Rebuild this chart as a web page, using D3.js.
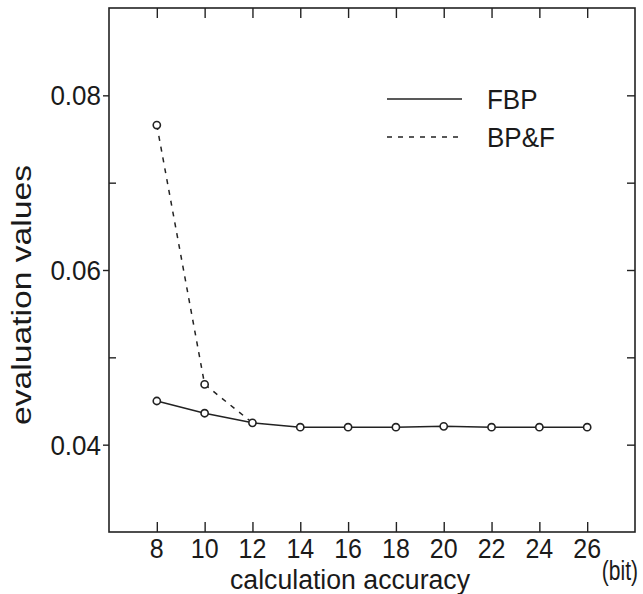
<!DOCTYPE html>
<html>
<head>
<meta charset="utf-8">
<script src="https://cdn.jsdelivr.net/npm/d3@7"></script>
<style>
  body { margin: 0; background: #fff; }
  text { font-family: "Liberation Sans", Arial, sans-serif; fill: #1a1a1a; }
</style>
</head>
<body>
<svg></svg>
<script>
var bits = [8, 10, 12, 14, 16, 18, 20, 22, 24, 26];
var fbp = [0.0450, 0.0436, 0.0425, 0.0420, 0.0420, 0.0420, 0.0421, 0.0420, 0.0420, 0.0420];
var bpf = [0.0766, 0.0469, 0.0425, 0.0420, 0.0420, 0.0420, 0.0421, 0.0420, 0.0420, 0.0420];
var yMajor = [0.04, 0.06, 0.08];
var yMinor = [0.05, 0.07];
var seriesNames = ["FBP", "BP&F"];

var width = 643;
var height = 594;
var svg = d3.select("svg")
            .attr("width", width)
            .attr("height", height);

var plotLeft = 109, plotRight = 635, plotTop = 8, plotBottom = 532;

var xScale = d3.scaleLinear()
               .domain([6, 28])
               .range([plotLeft, plotRight]);

var yScale = d3.scaleLinear()
               .domain([0.03, 0.09])
               .range([plotBottom, plotTop]);

// text in the scan looks a bit stretched vertically
function tall(sel, x, y, rot, sy) {
  sel.attr("transform", "translate(" + x + "," + y + ")" + (rot ? " rotate(" + rot + ")" : "") + " scale(1," + (sy || 1.08) + ")");
}

// frame
svg.append("rect")
   .attr("x", plotLeft).attr("y", plotTop)
   .attr("width", plotRight - plotLeft).attr("height", plotBottom - plotTop)
   .attr("fill", "none").attr("stroke", "#222").attr("stroke-width", 1.6);

// x ticks, bottom and top, inward
var xb = d3.axisBottom(xScale).tickValues(bits).tickSize(-10).tickFormat("");
svg.append("g").attr("transform", "translate(0," + plotBottom + ")").call(xb);
var xt = d3.axisTop(xScale).tickValues(bits).tickSize(-10).tickFormat("");
svg.append("g").attr("transform", "translate(0," + plotTop + ")").call(xt);

// y ticks
var yl = d3.axisLeft(yScale).tickValues(yMajor).tickSize(6).tickFormat("");
svg.append("g").attr("transform", "translate(" + plotLeft + ",0)").call(yl);
var ylm = d3.axisLeft(yScale).tickValues(yMinor).tickSize(-7).tickFormat("");
svg.append("g").attr("transform", "translate(" + plotLeft + ",0)").call(ylm);
var yr = d3.axisRight(yScale).tickValues(yMajor.concat(yMinor)).tickSize(-8).tickFormat("");
svg.append("g").attr("transform", "translate(" + plotRight + ",0)").call(yr);

svg.selectAll(".domain").remove();
svg.selectAll(".tick line").attr("stroke", "#222").attr("stroke-width", 1.4);

// tick labels
svg.selectAll(".xlab")
   .data(bits)
   .enter()
   .append("text")
   .attr("text-anchor", "middle")
   .style("font-size", "25px")
   .text(function(d) { return d; })
   .each(function(d) { tall(d3.select(this), xScale(d), 558); });

svg.selectAll(".ylab")
   .data(yMajor)
   .enter()
   .append("text")
   .attr("text-anchor", "end")
   .attr("dy", "0.36em")
   .style("font-size", "26px")
   .text(function(d) { return d.toFixed(2); })
   .each(function(d) { tall(d3.select(this), 101, yScale(d)); });

// axis titles
svg.append("text")
   .attr("text-anchor", "middle")
   .style("font-size", "25px")
   .attr("textLength", 240)
   .attr("lengthAdjust", "spacingAndGlyphs")
   .text("calculation accuracy")
   .call(tall, 350, 589);

svg.append("text")
   .attr("text-anchor", "end")
   .style("font-size", "21px")
   .text("(bit)")
   .call(tall, 638, 580, 0, 1.28);

svg.append("text")
   .attr("text-anchor", "middle")
   .style("font-size", "26px")
   .attr("textLength", 260)
   .attr("lengthAdjust", "spacingAndGlyphs")
   .text("evaluation values")
   .call(tall, 31, 295, -90);

// lines
var line = d3.line()
             .x(function(d) { return xScale(d[0]); })
             .y(function(d) { return yScale(d[1]); });

var bpfPts = bits.map(function(b, i) { return [b, bpf[i]]; });
var fbpPts = bits.map(function(b, i) { return [b, fbp[i]]; });

svg.append("path")
   .datum(bpfPts.slice(0, 3))
   .attr("d", line)
   .attr("fill", "none").attr("stroke", "#222").attr("stroke-width", 1.5)
   .attr("stroke-dasharray", "5,6");

svg.append("path")
   .datum(fbpPts)
   .attr("d", line)
   .attr("fill", "none").attr("stroke", "#222").attr("stroke-width", 1.5);

svg.selectAll(".pt")
   .data(bpfPts.slice(0, 2).concat(fbpPts))
   .enter()
   .append("circle")
   .attr("cx", function(d) { return xScale(d[0]); })
   .attr("cy", function(d) { return yScale(d[1]); })
   .attr("r", 3.6)
   .attr("fill", "#fff").attr("stroke", "#222").attr("stroke-width", 1.6);

// legend
var legend = svg.append("g");
seriesNames.forEach(function(name, i) {
  var ly = 99 + i * 38;
  legend.append("line")
        .attr("x1", 387).attr("x2", 462)
        .attr("y1", ly).attr("y2", ly)
        .attr("stroke", "#222").attr("stroke-width", 1.5)
        .attr("stroke-dasharray", i ? "5,6" : null);
  legend.append("text")
        .attr("dy", "0.36em")
        .style("font-size", "26px")
        .text(name)
        .call(tall, 487, ly);
});
</script>
</body>
</html>
